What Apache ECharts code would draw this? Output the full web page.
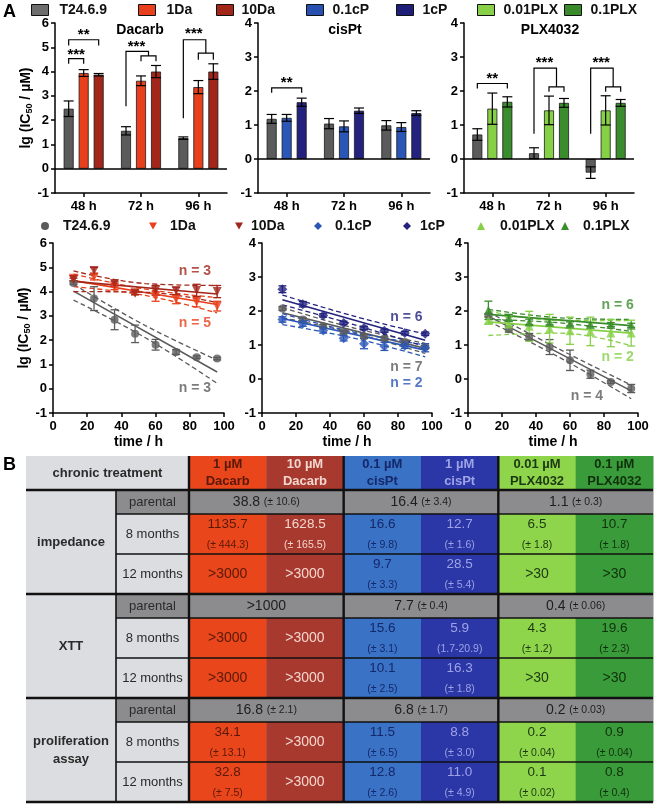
<!DOCTYPE html>
<html><head><meta charset="utf-8">
<script src="https://cdn.jsdelivr.net/npm/echarts@6/dist/echarts.min.js"></script>
<style>html,body{margin:0;padding:0;background:#fff}#c{width:657px;height:808px}</style>
</head><body><div id="c"></div>
<script>
const FONT = '"Liberation Sans", Arial, Helvetica, sans-serif';

// ================= DATA =================
// --- Panel A, top: lg(IC50) bar charts ---
const timepoints = ['48 h', '72 h', '96 h'];
const dacParent = [2.47, 1.56, 1.26], dacParentErr = [0.32, 0.17, 0.05];
const dac1Da = [3.94, 3.62, 3.36],   dac1DaErr = [0.14, 0.20, 0.27];
const dac10Da = [3.87, 4.00, 4.00],  dac10DaErr = [0.05, 0.25, 0.32];
const cisParent = [1.18, 1.04, 0.99], cisParentErr = [0.13, 0.15, 0.14];
const cis01cP = [1.21, 0.96, 0.94],  cis01cPErr = [0.10, 0.16, 0.13];
const cis1cP = [1.67, 1.42, 1.35],   cis1cPErr = [0.12, 0.08, 0.07];
const plxParent = [0.72, 0.17, -0.40], plxParentErr = [0.17, 0.16, 0.17];
const plx001 = [1.48, 1.43, 1.43],   plx001Err = [0.46, 0.42, 0.43];
const plx01 = [1.68, 1.65, 1.65],    plx01Err = [0.15, 0.13, 0.10];

// significance brackets: [slot within group, lg value]
const dacBrackets = [
  {group: 0, stars: '***', textSlot: 0.5, textY: 4.78, paths: [[[0, 4.32], [0, 4.53], [1, 4.53], [1, 4.32]]]},
  {group: 0, stars: '**', textSlot: 1, textY: 5.58, paths: [[[0, 5.07], [0, 5.31], [2, 5.31], [2, 5.07]]]},
  {group: 1, stars: '***', textSlot: 0.7, textY: 5.1, paths: [[[0, 2.57], [0, 4.83], [1.5, 4.83], [1.5, 4.65]], [[1, 4.42], [1, 4.65], [2, 4.65], [2, 4.42]]]},
  {group: 2, stars: '***', textSlot: 0.7, textY: 5.62, paths: [[[0, 2.08], [0, 5.31], [1.5, 5.31], [1.5, 4.76]], [[1, 4.49], [1, 4.76], [2, 4.76], [2, 4.49]]]}
];
const cisBrackets = [
  {group: 0, stars: '**', textSlot: 1, textY: 2.3, paths: [[[0, 1.95], [0, 2.09], [2, 2.09], [2, 1.95]]]}
];
const plxBrackets = [
  {group: 0, stars: '**', textSlot: 1, textY: 2.43, paths: [[[0, 2.07], [0, 2.22], [2, 2.22], [2, 2.07]]]},
  {group: 1, stars: '***', textSlot: 0.7, textY: 2.89, paths: [[[0, 0.74], [0, 2.67], [1.5, 2.67], [1.5, 2.12]], [[1, 1.98], [1, 2.12], [2, 2.12], [2, 1.98]]]},
  {group: 2, stars: '***', textSlot: 0.7, textY: 2.89, paths: [[[0, 0.74], [0, 2.67], [1.5, 2.67], [1.5, 2.12]], [[1, 1.98], [1, 2.12], [2, 2.12], [2, 1.98]]]}
];

// --- Panel A, bottom: time courses ---
const hours = [12, 24, 36, 48, 60, 72, 84, 96];
const tcDacParent = [4.35, 3.71, 2.84, 2.26, 1.81, 1.51, 1.30, 1.24];
const tcDacParentErr = [0.05, 0.49, 0.41, 0.36, 0.22, 0.10, 0.05, 0.05];
const tcDac1Da = [4.55, 4.60, 4.20, 3.95, 3.80, 3.68, 3.57, 3.40];
const tcDac1DaErr = [0.10, 0.12, 0.12, 0.08, 0.20, 0.18, 0.20, 0.20];
const tcDac10Da = [4.50, 4.87, 4.33, 3.93, 4.05, 4.03, 4.05, 4.00];
const tcDac10DaErr = [0.05, 0.12, 0.10, 0.06, 0.20, 0.15, 0.25, 0.25];
const tcCisParent = [2.07, 1.75, 1.55, 1.38, 1.25, 1.19, 1.09, 0.94];
const tcCisParentErr = [0.05, 0.05, 0.05, 0.05, 0.05, 0.05, 0.05, 0.05];
const tcCis01cP = [1.75, 1.63, 1.43, 1.20, 1.04, 0.96, 0.98, 0.92];
const tcCis01cPErr = [0.08, 0.08, 0.08, 0.08, 0.15, 0.12, 0.08, 0.12];
const tcCis1cP = [2.64, 2.20, 1.87, 1.65, 1.50, 1.42, 1.35, 1.33];
const tcCis1cPErr = [0.10, 0.08, 0.05, 0.05, 0.05, 0.05, 0.05, 0.05];
const tcPlxParent = [1.87, 1.46, 1.24, 0.94, 0.55, 0.14, -0.09, -0.28];
const tcPlxParentErr = [0.05, 0.08, 0.10, 0.22, 0.30, 0.12, 0.04, 0.12];
const tcPlx001 = [1.72, 1.62, 1.55, 1.48, 1.42, 1.40, 1.35, 1.35];
const tcPlx001Err = [0.10, 0.20, 0.44, 0.42, 0.40, 0.42, 0.40, 0.38];
const tcPlx01 = [2.02, 1.80, 1.68, 1.67, 1.62, 1.60, 1.60, 1.58];
const tcPlx01Err = [0.27, 0.10, 0.08, 0.08, 0.06, 0.06, 0.06, 0.06];

// regression lines and 95% bands: [hour, lg]
const fitDacParent = {line: [[12, 4.02], [96, 0.69]], upper: [[12, 4.30], [54, 2.60], [96, 1.18]], lower: [[12, 3.65], [54, 2.10], [96, 0.22]]};
const fitDac1Da = {line: [[12, 4.45], [96, 3.47]], upper: [[12, 4.72], [54, 4.10], [96, 3.75]], lower: [[12, 4.20], [54, 3.84], [96, 3.12]]};
const fitDac10Da = {line: [[12, 4.42], [96, 3.90]], upper: [[12, 4.85], [54, 4.33], [96, 4.25]], lower: [[12, 4.00], [54, 3.97], [96, 3.55]]};
const fitCisParent = {line: [[12, 1.95], [96, 0.90]], upper: [[12, 2.10], [54, 1.50], [96, 1.05]], lower: [[12, 1.80], [54, 1.35], [96, 0.75]]};
const fitCis01cP = {line: [[12, 1.78], [96, 0.85]], upper: [[12, 1.92], [54, 1.38], [96, 1.00]], lower: [[12, 1.60], [54, 1.20], [96, 0.65]]};
const fitCis1cP = {line: [[12, 2.33], [96, 1.14]], upper: [[12, 2.47], [54, 1.85], [96, 1.32]], lower: [[12, 2.18], [54, 1.60], [96, 0.95]]};
const fitPlxParent = {line: [[12, 1.85], [96, -0.35]], upper: [[12, 1.97], [54, 0.87], [96, -0.18]], lower: [[12, 1.70], [54, 0.63], [96, -0.58]]};
const fitPlx001 = {line: [[12, 1.68], [96, 1.35]], upper: [[12, 2.00], [54, 1.72], [96, 1.72]], lower: [[12, 1.28], [54, 1.35], [96, 0.98]]};
const fitPlx01 = {line: [[12, 1.90], [96, 1.57]], upper: [[12, 2.05], [54, 1.80], [96, 1.75]], lower: [[12, 1.75], [54, 1.65], [96, 1.40]]};

// replicate counts, anchored at [hour, lg]
const dacCounts = [['n = 3', 83, 4.85], ['n = 5', 83, 2.72], ['n = 3', 83, 0.03]];
const cisCounts = [['n = 6', 85, 1.82], ['n = 7', 85, 0.35], ['n = 2', 85, -0.12]];
const plxCounts = [['n = 6', 88, 2.18], ['n = 2', 88, 0.65], ['n = 4', 70, -0.5]];

// --- Panel B: table ---
const treatments = ['1 µM\nDacarb', '10 µM\nDacarb', '0.1 µM\ncisPt', '1 µM\ncisPt', '0.01 µM\nPLX4032', '0.1 µM\nPLX4032'];
const assays = ['impedance', 'XTT', 'proliferation\nassay'];
const stages = ['parental', '8 months', '12 months'];
const impedanceParental = [['38.8', '(± 10.6)'], ['16.4', '(± 3.4)'], ['1.1', '(± 0.3)']];
const impedance8m = [['1135.7', '(± 444.3)'], ['1628.5', '(± 165.5)'], ['16.6', '(± 9.8)'], ['12.7', '(± 1.6)'], ['6.5', '(± 1.8)'], ['10.7', '(± 1.8)']];
const impedance12m = [['>3000'], ['>3000'], ['9.7', '(± 3.3)'], ['28.5', '(± 5.4)'], ['>30'], ['>30']];
const xttParental = [['>1000'], ['7.7', '(± 0.4)'], ['0.4', '(± 0.06)']];
const xtt8m = [['>3000'], ['>3000'], ['15.6', '(± 3.1)'], ['5.9', '(1.7-20.9)'], ['4.3', '(± 1.2)'], ['19.6', '(± 2.3)']];
const xtt12m = [['>3000'], ['>3000'], ['10.1', '(± 2.5)'], ['16.3', '(± 1.8)'], ['>30'], ['>30']];
const prolifParental = [['16.8', '(± 2.1)'], ['6.8', '(± 1.7)'], ['0.2', '(± 0.03)']];
const prolif8m = [['34.1', '(± 13.1)'], ['>3000'], ['11.5', '(± 6.5)'], ['8.8', '(± 3.0)'], ['0.2', '(± 0.04)'], ['0.9', '(± 0.04)']];
const prolif12m = [['32.8', '(± 7.5)'], ['>3000'], ['12.8', '(± 2.6)'], ['11.0', '(± 4.9)'], ['0.1', '(± 0.02)'], ['0.8', '(± 0.4)']];

// ================= STYLE / LAYOUT =================
const COL = {parent: '#5b5b5b', da1: '#e8401c', da10: '#a3261a', cp01: '#2a56b8', cp1: '#23237f', plx001: '#86d046', plx01: '#3a8c2c'};
const LEG_COL = {parent: '#6e6e6e', da1: '#e8401c', da10: '#a3261a', cp01: '#2850b0', cp1: '#1e1e78', plx001: '#88d048', plx01: '#3a8a2c'};
const TREAT_FILL = ['#e9471b', '#a8392f', '#3a72c6', '#2b37a6', '#8ed54b', '#3a9b3b'];
const TREAT_TEXT = ['#5a1808', '#f3d6cd', '#15286a', '#9ea2e6', '#1c3812', '#10300c'];
const LIGHT = '#dcdde1', GREY = '#8c8c8e';
const BAR_W = 10, STEP = 15;

const topGrids = [{left: 55, top: 23, width: 172, height: 170}, {left: 258, top: 23, width: 172, height: 170}, {left: 464, top: 23, width: 170, height: 170}];
const midGrids = [{left: 53, top: 243, width: 171, height: 170}, {left: 262, top: 243, width: 170, height: 170}, {left: 468, top: 243, width: 170, height: 170}];
const tableGrid = {left: 26, top: 456, width: 627, height: 346};
const COLW0 = 90, COLW1 = 73, TW = (627 - COLW0 - COLW1) / 6;
const HEAD_H = 34, PAR_H = 24, MON_H = 40, SEC_H = PAR_H + 2 * MON_H;

// ================= BUILD =================
const axisLabel = {color: '#000', fontFamily: FONT, fontWeight: 'bold', fontSize: 13};
const axisLine = {show: true, onZero: false, lineStyle: {color: '#000', width: 1.5}};
const axisTick = {show: true, length: 4, lineStyle: {color: '#000', width: 1.5}};
const yName = '{a|lg (IC}{b|50}{a| / µM)}';
const yNameStyle = {rich: {a: {fontSize: 14, fontWeight: 'bold', fontFamily: FONT, color: '#000'}, b: {fontSize: 9, fontWeight: 'bold', fontFamily: FONT, color: '#000', verticalAlign: 'bottom', padding: [5, 0, 0, 0]}}};

const grid = [...topGrids, ...midGrids, tableGrid];
const xAxis = [], yAxis = [], series = [];

function errRender(offset, color, half, lw) {
  return function (params, api) {
    const c = api.value(0);
    const lo = api.coord([c, api.value(1)]), hi = api.coord([c, api.value(2)]);
    const x = lo[0] + offset;
    const st = {stroke: color, lineWidth: lw};
    return {type: 'group', children: [
      {type: 'line', shape: {x1: x, y1: lo[1], x2: x, y2: hi[1]}, style: st},
      {type: 'line', shape: {x1: x - half, y1: lo[1], x2: x + half, y2: lo[1]}, style: st},
      {type: 'line', shape: {x1: x - half, y1: hi[1], x2: x + half, y2: hi[1]}, style: st}
    ]};
  };
}
function bracketRender(defs) {
  return function (params, api) {
    const b = defs[params.dataIndex];
    const children = b.paths.map(path => ({
      type: 'polyline',
      shape: {points: path.map(([s, y]) => { const p = api.coord([b.group, y]); return [p[0] + (s - 1) * STEP, p[1]]; })},
      style: {stroke: '#000', lineWidth: 1.2, fill: 'none'}
    }));
    const tp = api.coord([b.group, b.textY]);
    children.push({type: 'text', style: {text: b.stars, x: tp[0] + (b.textSlot - 1) * STEP, y: tp[1] + 2, align: 'center', verticalAlign: 'middle', fontSize: 15, fontWeight: 'bold', fontFamily: FONT, fill: '#000'}});
    return {type: 'group', children};
  };
}

const barPanels = [
  {ymax: 6, brackets: dacBrackets, series: [['T24.6.9', dacParent, dacParentErr, COL.parent], ['1Da', dac1Da, dac1DaErr, COL.da1], ['10Da', dac10Da, dac10DaErr, COL.da10]]},
  {ymax: 4, brackets: cisBrackets, series: [['T24.6.9', cisParent, cisParentErr, COL.parent], ['0.1cP', cis01cP, cis01cPErr, COL.cp01], ['1cP', cis1cP, cis1cPErr, COL.cp1]]},
  {ymax: 4, brackets: plxBrackets, series: [['T24.6.9', plxParent, plxParentErr, COL.parent], ['0.01PLX', plx001, plx001Err, COL.plx001], ['0.1PLX', plx01, plx01Err, COL.plx01]]}
];
barPanels.forEach((p, gi) => {
  xAxis.push({type: 'category', gridIndex: gi, data: timepoints, axisLine, axisTick: {...axisTick, alignWithLabel: true}, axisLabel: {...axisLabel, margin: 7}, splitLine: {show: false}});
  yAxis.push({type: 'value', gridIndex: gi, min: -1, max: p.ymax, interval: 1, axisLine, axisTick, axisLabel: {...axisLabel, margin: 6}, splitLine: {show: false},
    name: gi === 0 ? yName : '', nameLocation: 'middle', nameGap: 16, nameRotate: 90, nameTextStyle: yNameStyle});
  p.series.forEach(([name, vals, errs, color], si) => {
    const s = {type: 'bar', name, xAxisIndex: gi, yAxisIndex: gi, data: vals, barWidth: BAR_W, barGap: '50%',
      itemStyle: {color, borderColor: '#1a1a1a', borderWidth: 0.8}, z: 2, silent: true};
    if (si === 0) s.markLine = {silent: true, symbol: ['none', 'none'], label: {show: false}, lineStyle: {color: '#000', width: 1.5, type: 'solid'}, data: [{yAxis: 0}]};
    series.push(s);
    series.push({type: 'custom', xAxisIndex: gi, yAxisIndex: gi, encode: {x: 0, y: [1, 2]}, z: 3, silent: true,
      data: vals.map((v, i) => [i, v - errs[i], v + errs[i]]), renderItem: errRender((si - 1) * STEP, '#000', 5, 1.2)});
  });
  series.push({type: 'custom', xAxisIndex: gi, yAxisIndex: gi, encode: {x: 0, y: 1}, z: 4, silent: true,
    data: p.brackets.map(b => [b.group, b.textY]), renderItem: bracketRender(p.brackets)});
});

const DOWN = 'path://M0,0L10,0L5,9Z';
const tcPanels = [
  {ymax: 6, counts: dacCounts, countColors: [COL.da10, COL.da1, COL.parent], series: [
    ['T24.6.9', tcDacParent, tcDacParentErr, fitDacParent, COL.parent, 'circle', 0, 8],
    ['1Da', tcDac1Da, tcDac1DaErr, fitDac1Da, COL.da1, 'triangle', 180, 9],
    ['10Da', tcDac10Da, tcDac10DaErr, fitDac10Da, COL.da10, 'triangle', 180, 9]]},
  {ymax: 4, counts: cisCounts, countColors: [COL.cp1, COL.parent, COL.cp01], series: [
    ['T24.6.9', tcCisParent, tcCisParentErr, fitCisParent, COL.parent, 'circle', 0, 8],
    ['0.1cP', tcCis01cP, tcCis01cPErr, fitCis01cP, COL.cp01, 'diamond', 0, 10],
    ['1cP', tcCis1cP, tcCis1cPErr, fitCis1cP, COL.cp1, 'diamond', 0, 10]]},
  {ymax: 4, counts: plxCounts, countColors: [COL.plx01, COL.plx001, COL.parent], series: [
    ['T24.6.9', tcPlxParent, tcPlxParentErr, fitPlxParent, COL.parent, 'circle', 0, 8],
    ['0.01PLX', tcPlx001, tcPlx001Err, fitPlx001, COL.plx001, 'triangle', 0, 9],
    ['0.1PLX', tcPlx01, tcPlx01Err, fitPlx01, COL.plx01, 'triangle', 0, 9]]}
];
tcPanels.forEach((p, k) => {
  const gi = 3 + k;
  xAxis.push({type: 'value', gridIndex: gi, min: 0, max: 100, interval: 20, axisLine, axisTick, axisLabel: {...axisLabel, margin: 7}, splitLine: {show: false},
    name: 'time / h', nameLocation: 'middle', nameGap: 22, nameTextStyle: {fontSize: 14, fontWeight: 'bold', fontFamily: FONT, color: '#000'}});
  yAxis.push({type: 'value', gridIndex: gi, min: -1, max: p.ymax, interval: 1, axisLine, axisTick, axisLabel: {...axisLabel, margin: 6}, splitLine: {show: false},
    name: k === 0 ? yName : '', nameLocation: 'middle', nameGap: 16, nameRotate: 90, nameTextStyle: yNameStyle});
  p.series.forEach(([name, vals, errs, fit, color, sym, rot, size]) => {
    series.push({type: 'line', xAxisIndex: gi, yAxisIndex: gi, data: fit.line, symbol: 'none', silent: true, z: 2, lineStyle: {color, width: 1.6}});
    ['upper', 'lower'].forEach(key => series.push({type: 'line', xAxisIndex: gi, yAxisIndex: gi, data: fit[key], symbol: 'none', smooth: 0.4, silent: true, z: 2,
      lineStyle: {color, width: 1.3, type: [5, 3]}}));
    series.push({type: 'custom', xAxisIndex: gi, yAxisIndex: gi, encode: {x: 0, y: [1, 2]}, z: 3, silent: true,
      data: vals.map((v, i) => [hours[i], v - errs[i], v + errs[i]]), renderItem: errRender(0, color, 4, 1.3)});
    series.push({type: 'scatter', name, xAxisIndex: gi, yAxisIndex: gi, data: vals.map((v, i) => [hours[i], v]), symbol: sym, symbolRotate: rot, symbolSize: size,
      itemStyle: {color}, z: 4, silent: true});
  });
  p.counts.forEach(([text, x, y], i) => series.push({type: 'scatter', xAxisIndex: gi, yAxisIndex: gi, data: [[x, y]], symbolSize: 1, itemStyle: {color: 'transparent'}, z: 5, silent: true,
    label: {show: true, position: 'inside', formatter: text, color: p.countColors[i], fontSize: 14, fontWeight: 'bold', fontFamily: FONT}}));
});

// ---------- legends ----------
const legend = [];
const topLegend = [['T24.6.9', LEG_COL.parent, 31, 6], ['1Da', LEG_COL.da1, 138, 6], ['10Da', LEG_COL.da10, 216, 3], ['0.1cP', LEG_COL.cp01, 306, 4],
  ['1cP', LEG_COL.cp1, 396, 4], ['0.01PLX', LEG_COL.plx001, 477, 4], ['0.1PLX', LEG_COL.plx01, 564, 4]];
topLegend.forEach(([name, color, left, pad]) => legend.push({left, top: 3, padding: 0, itemWidth: 17, itemHeight: 11, selectedMode: false,
  data: [{name, icon: 'rect', itemStyle: {color, borderColor: '#111', borderWidth: 1}}],
  textStyle: {fontSize: 14, fontWeight: 'bold', fontFamily: FONT, color: '#111', padding: [0, 0, 0, pad]}}));
const midLegend = [['T24.6.9', COL.parent, 'circle', 45, 63], ['1Da', COL.da1, DOWN, 153, 170], ['10Da', COL.da10, DOWN, 239, 251], ['0.1cP', COL.cp01, 'diamond', 318, 335],
  ['1cP', COL.cp1, 'diamond', 407, 420], ['0.01PLX', COL.plx001, 'triangle', 481, 500], ['0.1PLX', COL.plx01, 'triangle', 565, 583]];
midLegend.forEach(([name, color, icon, cx, tx]) => legend.push({left: cx - 4, top: 219, padding: 0, itemWidth: 8, itemHeight: 8, selectedMode: false,
  data: [{name, icon, itemStyle: {color, borderWidth: 0}}],
  textStyle: {fontSize: 14, fontWeight: 'bold', fontFamily: FONT, color: '#111', padding: [0, 0, 0, Math.max(0, tx - (cx + 4) - 5)]}}));

// ---------- table ----------
xAxis.push({type: 'value', gridIndex: 6, min: 0, max: tableGrid.width, show: false});
yAxis.push({type: 'value', gridIndex: 6, min: 0, max: tableGrid.height, inverse: true, show: false});
const cells = [];
function valueText(v, inline) {
  if (v.length < 2) return '{pv|' + v[0] + '}';
  return inline ? '{pv|' + v[0] + '} {ps|' + v[1] + '}' : '{v|' + v[0] + '}\n{s|' + v[1] + '}';
}
cells.push({x0: 0, x1: COLW0 + COLW1, y0: 0, y1: HEAD_H, fill: LIGHT, text: 'chronic treatment', color: '#2a2a2a', bold: true, lh: 16});
treatments.forEach((t, j) => cells.push({x0: COLW0 + COLW1 + j * TW, x1: COLW0 + COLW1 + (j + 1) * TW, y0: 0, y1: HEAD_H, fill: TREAT_FILL[j], text: t, color: TREAT_TEXT[j], bold: true, lh: 17}));
const assayRows = [[impedanceParental, impedance8m, impedance12m], [xttParental, xtt8m, xtt12m], [prolifParental, prolif8m, prolif12m]];
assayRows.forEach(([par, m8, m12], k) => {
  const y = HEAD_H + k * SEC_H;
  cells.push({x0: 0, x1: COLW0, y0: y, y1: y + SEC_H, fill: LIGHT, text: assays[k], color: '#2a2a2a', bold: true, lh: 18});
  const rowTops = [y, y + PAR_H, y + PAR_H + MON_H], rowBots = [y + PAR_H, y + PAR_H + MON_H, y + SEC_H];
  stages.forEach((s, r) => cells.push({x0: COLW0, x1: COLW0 + COLW1, y0: rowTops[r], y1: rowBots[r], fill: r === 0 ? GREY : LIGHT, text: s, color: '#2a2a2a', bold: false, lh: 16}));
  par.forEach((v, m) => cells.push({x0: COLW0 + COLW1 + 2 * m * TW, x1: COLW0 + COLW1 + (2 * m + 2) * TW, y0: rowTops[0], y1: rowBots[0], fill: GREY, text: valueText(v, true), color: '#1e1e1e', lh: 16}));
  [m8, m12].forEach((row, r) => row.forEach((v, j) => cells.push({x0: COLW0 + COLW1 + j * TW, x1: COLW0 + COLW1 + (j + 1) * TW, y0: rowTops[r + 1], y1: rowBots[r + 1],
    fill: TREAT_FILL[j], text: valueText(v, false), color: TREAT_TEXT[j], lh: 20})));
});
const RICH = {
  v: {fontSize: 13.5, lineHeight: 22, fontFamily: FONT},
  s: {fontSize: 10.5, lineHeight: 20, fontFamily: FONT},
  pv: {fontSize: 14, fontFamily: FONT},
  ps: {fontSize: 10.5, fontFamily: FONT}
};
series.push({type: 'custom', xAxisIndex: 6, yAxisIndex: 6, encode: {x: [0, 2], y: [1, 3]}, silent: true, z: 1,
  data: cells.map(c => [c.x0, c.y0, c.x1, c.y1]),
  renderItem: (params, api) => {
    const c = cells[params.dataIndex];
    const p0 = api.coord([c.x0, c.y0]), p1 = api.coord([c.x1, c.y1]);
    const x = Math.min(p0[0], p1[0]), y = Math.min(p0[1], p1[1]);
    const w = Math.abs(p1[0] - p0[0]), h = Math.abs(p1[1] - p0[1]);
    return {type: 'group', children: [
      {type: 'rect', shape: {x, y, width: w + 0.5, height: h + 0.5}, style: {fill: c.fill}},
      {type: 'text', style: {text: c.text, x: x + w / 2, y: y + h / 2, align: 'center', verticalAlign: 'middle', fill: c.color,
        fontSize: 13, fontWeight: c.bold ? 'bold' : 'normal', fontFamily: FONT, lineHeight: c.lh, rich: RICH}}
    ]};
  }});
const tLines = [];
[0, 1, 2, 3].forEach(k => tLines.push([0, HEAD_H + k * SEC_H, tableGrid.width, HEAD_H + k * SEC_H, 2.6]));
[0, 1, 2].forEach(k => { const y = HEAD_H + k * SEC_H; tLines.push([COLW0, y + PAR_H, tableGrid.width, y + PAR_H, 1.6]); tLines.push([COLW0, y + PAR_H + MON_H, tableGrid.width, y + PAR_H + MON_H, 1.6]); });
tLines.push([COLW0, HEAD_H, COLW0, tableGrid.height, 1.6]);
[0, 2, 4].forEach(j => tLines.push([COLW0 + COLW1 + j * TW, 0, COLW0 + COLW1 + j * TW, tableGrid.height, 2.4]));
series.push({type: 'custom', xAxisIndex: 6, yAxisIndex: 6, encode: {x: [0, 2], y: [1, 3]}, silent: true, z: 2,
  data: tLines,
  renderItem: (params, api) => {
    const a = api.coord([api.value(0), api.value(1)]), b = api.coord([api.value(2), api.value(3)]);
    return {type: 'line', shape: {x1: a[0], y1: a[1], x2: b[0], y2: b[1]}, style: {stroke: '#111', lineWidth: api.value(4)}};
  }});

// ---------- titles / panel letters ----------
const graphic = [
  {type: 'text', left: 3, top: 3, style: {text: 'A', fontSize: 18, fontWeight: 'bold', fontFamily: FONT, fill: '#000'}},
  {type: 'text', left: 3, top: 456, style: {text: 'B', fontSize: 18, fontWeight: 'bold', fontFamily: FONT, fill: '#000'}},
  {type: 'text', x: 140, y: 30, style: {text: 'Dacarb', align: 'center', verticalAlign: 'middle', fontSize: 14, fontWeight: 'bold', fontFamily: FONT, fill: '#000'}},
  {type: 'text', x: 345, y: 30, style: {text: 'cisPt', align: 'center', verticalAlign: 'middle', fontSize: 14, fontWeight: 'bold', fontFamily: FONT, fill: '#000'}},
  {type: 'text', x: 550, y: 30, style: {text: 'PLX4032', align: 'center', verticalAlign: 'middle', fontSize: 14, fontWeight: 'bold', fontFamily: FONT, fill: '#000'}}
];

const chart = echarts.init(document.getElementById('c'), null, {renderer: 'canvas'});
chart.setOption({animation: false, backgroundColor: '#fff', grid, xAxis, yAxis, legend, series, graphic});
</script>
</body></html>
